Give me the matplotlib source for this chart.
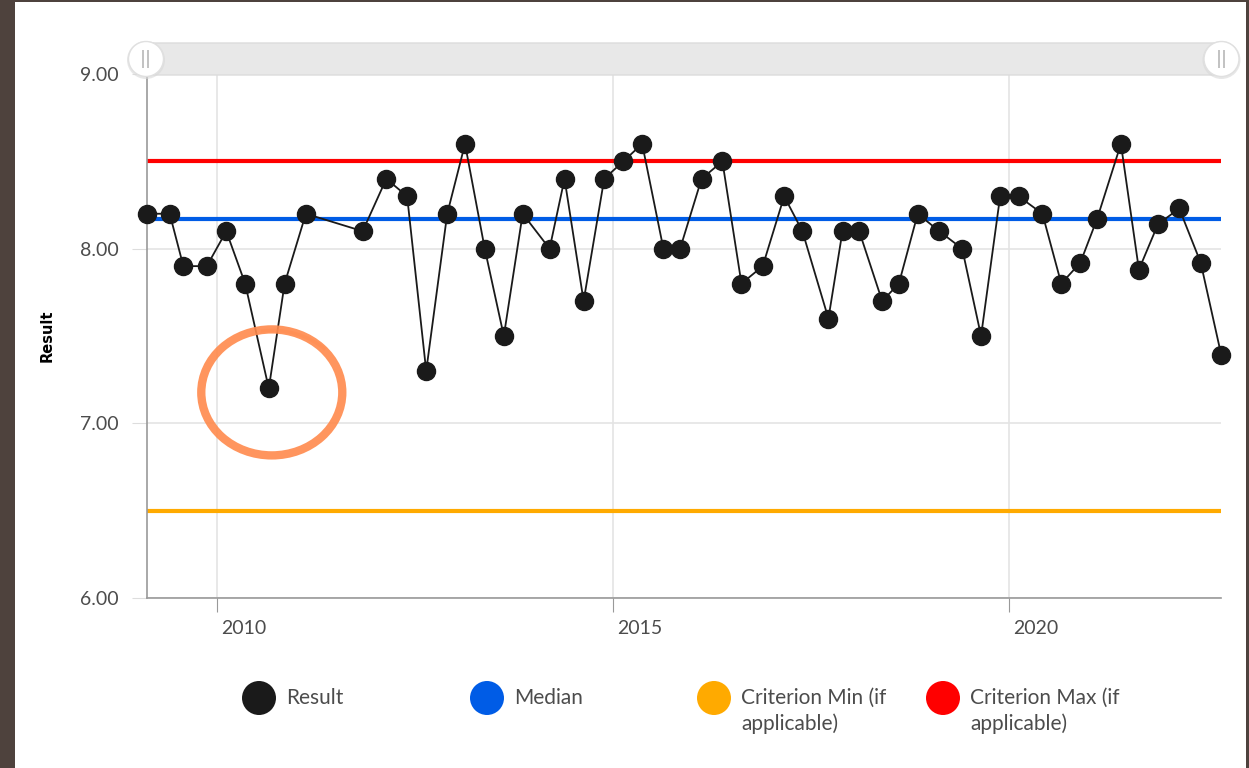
import pandas as pd
import matplotlib.pyplot as plt
import matplotlib.dates as mdates
import matplotlib.transforms as mtransforms
from matplotlib.patches import Rectangle, Circle, Ellipse, Arc, FancyBboxPatch

# sample dates and results
dates = ["2009-02-09", "2009-05-27", "2009-07-29", "2009-11-14", "2010-02-12", "2010-05-10",
         "2010-08-27", "2010-11-08", "2011-02-14", "2011-11-03", "2012-02-20", "2012-05-26",
         "2012-08-22", "2012-11-27", "2013-02-17", "2013-05-19", "2013-08-15", "2013-11-10",
         "2014-03-14", "2014-05-22", "2014-08-18", "2014-11-21", "2015-02-17", "2015-05-15",
         "2015-08-21", "2015-11-06", "2016-02-13", "2016-05-19", "2016-08-15", "2016-11-21",
         "2017-02-28", "2017-05-23", "2017-09-20", "2017-11-24", "2018-02-09", "2018-05-26",
         "2018-08-11", "2018-11-06", "2019-02-13", "2019-05-30", "2019-08-25", "2019-11-21",
         "2020-02-14", "2020-06-03", "2020-08-29", "2020-11-25", "2021-02-10", "2021-05-31",
         "2021-08-22", "2021-11-18", "2022-02-24", "2022-06-03", "2022-09-06"]
results = [8.2, 8.2, 7.9, 7.9, 8.1, 7.8, 7.2, 7.8, 8.2, 8.1, 8.4, 8.3, 7.3, 8.2, 8.6, 8.0,
           7.5, 8.2, 8.0, 8.4, 7.7, 8.4, 8.5, 8.6, 8.0, 8.0, 8.4, 8.5, 7.8, 7.9, 8.3, 8.1,
           7.6, 8.1, 8.1, 7.7, 7.8, 8.2, 8.1, 8.0, 7.5, 8.3, 8.3, 8.2, 7.8, 7.92, 8.17, 8.6,
           7.88, 8.14, 8.23, 7.92, 7.39]
median = 8.17
crit_min = 6.5
crit_max = 8.5

legend_labels = ["Result", "Median", "Criterion Min (if\napplicable)", "Criterion Max (if\napplicable)"]
legend_colors = ["#1a1a1a", "#005ce6", "#ffaa00", "#ff0000"]

plt.rcParams['font.family'] = ['Lato', 'DejaVu Sans']

df = pd.DataFrame({"date": pd.to_datetime(dates), "result": results})

W, H = 1249, 768
fig = plt.figure(figsize=(W / 100, H / 100), dpi=100, facecolor="#4e423d")
# white panel inside the dark frame
fig.patches.append(Rectangle((15 / W, 0), 1231 / W, 766 / H, transform=fig.transFigure,
                             facecolor="white", edgecolor="none", zorder=-5))

ax = fig.add_axes([146.5 / W, 1 - 598 / H, (1221.3 - 146.5) / W, (598 - 74) / H])
ax.set_facecolor("none")

ax.axhline(median, color=legend_colors[1], lw=3, zorder=2)
ax.axhline(crit_min, color=legend_colors[2], lw=3, zorder=2)
ax.axhline(crit_max, color=legend_colors[3], lw=3, zorder=2)
ax.plot(df["date"], df["result"], color="#1a1a1a", lw=1.3, marker="o", ms=13,
        markerfacecolor="#1a1a1a", markeredgecolor="#1a1a1a", zorder=3, clip_on=False)

ax.set_xlim(df["date"].iloc[0], df["date"].iloc[-1])
ax.set_ylim(6, 9)
ax.set_yticks([6, 7, 8, 9])
ax.set_yticklabels(["6.00", "7.00", "8.00", "9.00"])
ax.xaxis.set_major_locator(mdates.YearLocator(5))
ax.xaxis.set_major_formatter(mdates.DateFormatter("%Y"))

ax.grid(True, color="#e4e4e4", lw=1.2, zorder=0)
for s in ["top", "right"]:
    ax.spines[s].set_visible(False)
for s in ["left", "bottom"]:
    ax.spines[s].set_color("#999999")
    ax.spines[s].set_linewidth(1.2)
ax.tick_params(axis="y", length=11, color="#dddddd", labelsize=14, labelcolor="#4c4c4c", pad=9)
ax.tick_params(axis="x", length=10, color="#999999", labelsize=14, labelcolor="#4c4c4c", pad=6)
shift = mtransforms.ScaledTranslation(4 / 100, 0, fig.dpi_scale_trans)
for lbl in ax.get_xticklabels():
    lbl.set_horizontalalignment("left")
    lbl.set_transform(lbl.get_transform() + shift)

fig.text(47 / W, 1 - 336 / H, "Result", rotation=90, ha="center", va="center",
         fontsize=10.5, fontweight="bold", family="DejaVu Sans", color="black")

# range slider on top
fig.patches.append(FancyBboxPatch((146 / W, 1 - 75 / H), (1221 - 146) / W, 32 / H,
                                  boxstyle="round,pad=0,rounding_size=0.004",
                                  transform=fig.transFigure, facecolor="#e8e8e8",
                                  edgecolor="#dcdcdc", lw=1, zorder=1))
for hx in [146, 1221.5]:
    fig.patches.append(Circle((hx, H - 60), 19, transform=None, facecolor="#d8d8d8",
                              edgecolor="none", alpha=0.6, zorder=2))
    fig.patches.append(Circle((hx, H - 59), 17.5, transform=None, facecolor="white",
                              edgecolor="#e0e0e0", lw=1, zorder=3))
    fig.text(hx / W, 1 - 59 / H, "||", ha="center", va="center", fontsize=13,
             color="#b0b0b0", family="DejaVu Sans", zorder=4)

# hand-drawn ring around the lowest result
i_min = df["result"].idxmin()
fig.canvas.draw()
cx, cy = ax.transData.transform((mdates.date2num(df["date"][i_min]), df["result"][i_min]))
ring = Ellipse((cx + 3, cy - 4), 141, 126, transform=None, fill=False,
               edgecolor="#ff8a4c", lw=6, alpha=0.9, zorder=5)
fig.patches.append(ring)
fig.patches.append(Arc((cx + 3, cy - 6), 150, 128, theta1=40, theta2=100, transform=None,
                       edgecolor="#ff8a4c", lw=2.5, alpha=0.4, zorder=5))

# legend
leg_x = [259, 487, 714, 943]
for x, c, lab in zip(leg_x, legend_colors, legend_labels):
    fig.patches.append(Circle((x, H - 698), 17, transform=None, facecolor=c,
                              edgecolor="none", zorder=3))
    fig.text((x + 27) / W, 1 - 688 / H, lab, ha="left", va="top", fontsize=15,
             color="#4c4c4c", linespacing=1.35)

fig.savefig("out.png", dpi=100, facecolor=fig.get_facecolor())
